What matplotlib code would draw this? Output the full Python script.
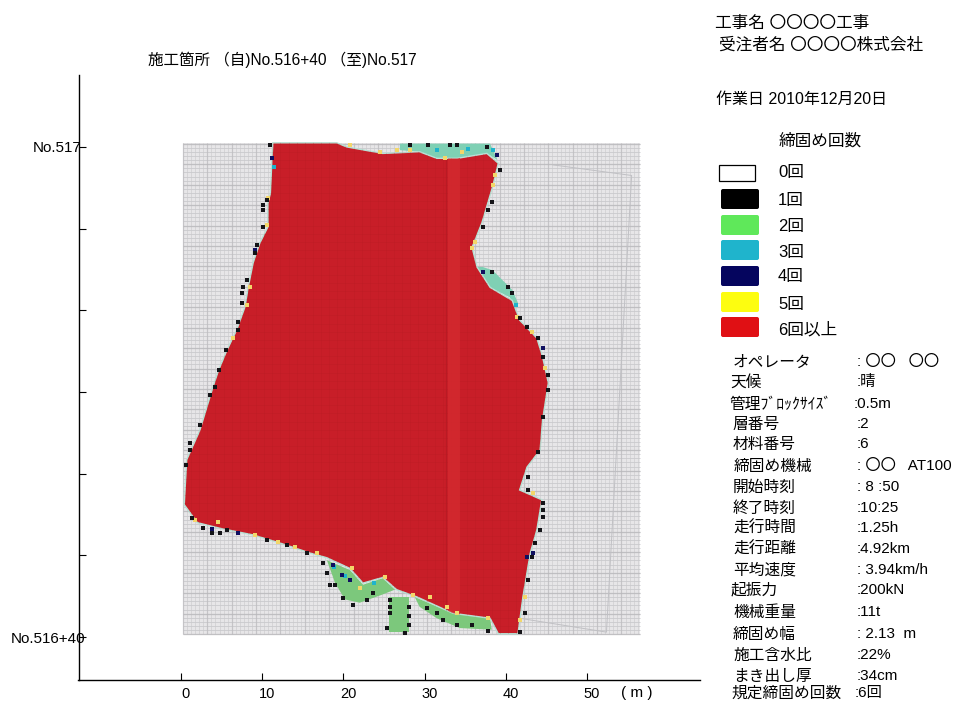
import numpy as np
import matplotlib
matplotlib.use('Agg')
import matplotlib.pyplot as plt
from matplotlib.patches import Polygon, Rectangle, FancyBboxPatch
from matplotlib.transforms import ScaledTranslation

plt.rcParams['font.family'] = ['Liberation Sans', 'Noto Sans CJK JP', 'DejaVu Sans']

# Values (metres along x, metres from No.516+40 along y)
x_ticks = [0, 10, 20, 30, 40, 50]
y_ticks = [0, 10, 20, 30, 40, 50, 60]
y_tick_labels = ['No.516+40', '', '', '', '', '', 'No.517']

# the lists below were read at 8.2 px/m, the axis turned out to be 8.12 px/m
x_fix = 8.2 / 8.12

red_outline = [
    (11.2, 60.5), (10.9, 54.3), (10.6, 53.1), (10.6, 50.2), (9.6, 48.2), (8.8, 45.8),
    (8.2, 42.8), (7.8, 40.4), (6.8, 37.6), (5.6, 35.1), (4.6, 32.7), (3.9, 30.6),
    (2.3, 25.3), (0.7, 21.7), (0.4, 16.2), (2.0, 14.0), (4.8, 13.3), (8.8, 12.5),
    (12.1, 11.5), (15.7, 10.3), (17.8, 9.7), (20.6, 8.4), (22.2, 6.6), (24.6, 7.3),
    (26.3, 5.8), (28.8, 4.9), (33.2, 2.9), (37.7, 2.3), (38.7, 0.4), (41.1, 0.4),
    (41.7, 4.9), (42.6, 10.3), (43.4, 13.1), (44.0, 16.8), (41.3, 18.0), (42.2, 20.8),
    (43.8, 22.9), (44.1, 26.6), (44.8, 31.1), (44.1, 34.3), (43.4, 36.6), (41.3, 38.8),
    (40.4, 41.2), (37.7, 42.8), (36.1, 45.3), (35.5, 47.7), (36.7, 50.7), (38.0, 55.1),
    (38.7, 58.0), (37.3, 59.2), (33.7, 58.6), (31.2, 58.6), (29.1, 59.4), (24.6, 59.2),
    (20.2, 60.0), (19.0, 60.5),
]

green_areas = [
    [(25.4, 4.9), (27.8, 4.9), (27.8, 0.6), (25.4, 0.6)],
    [(17.8, 9.4), (20.6, 8.2), (22.2, 6.4), (24.6, 7.2), (26.1, 5.8), (24.3, 5.1),
     (21.8, 4.2), (20.0, 4.6), (18.8, 6.6)],
    [(28.5, 4.9), (33.2, 2.9), (37.7, 2.3), (37.9, 0.9), (34.0, 1.1), (31.2, 2.3), (29.1, 3.7)],
]
teal_areas = [
    [(36.1, 45.3), (37.7, 42.8), (40.1, 41.6), (40.7, 40.0), (41.1, 40.9), (40.4, 42.5),
     (38.0, 44.9), (36.8, 45.3)],
    [(26.7, 60.4), (37.7, 60.4), (38.6, 58.4), (37.3, 59.2), (33.7, 58.6), (31.2, 58.6),
     (29.1, 59.4), (26.7, 59.6)],
]

black_cells = [
    (10.5, 53.5), (10.0, 52.9), (10.0, 52.3), (10.0, 50.2), (9.3, 48.0), (9.0, 47.0),
    (8.0, 43.7), (7.6, 42.8), (7.4, 42.1), (7.4, 40.9), (7.0, 38.6), (7.0, 37.6),
    (5.5, 35.1), (4.6, 32.7), (4.1, 30.6), (10.9, 60.2), (3.5, 29.6), (2.3, 25.9),
    (1.1, 23.7), (1.1, 22.9), (0.6, 21.1), (1.3, 14.6), (2.7, 13.3), (3.8, 12.7),
    (4.8, 12.7), (5.6, 13.1), (10.5, 11.9), (12.9, 11.3), (15.4, 10.3), (17.3, 9.1),
    (17.8, 7.8), (18.2, 6.4), (18.8, 6.4), (19.8, 4.8), (21.0, 3.9), (23.4, 5.4),
    (22.7, 4.5), (25.5, 4.5), (25.5, 3.7), (25.5, 2.9), (27.8, 3.7), (27.8, 2.6),
    (27.8, 1.5), (25.1, 1.1), (27.3, 0.5), (30.0, 3.5), (31.2, 2.9), (32.0, 2.1),
    (33.7, 1.5), (35.5, 1.5), (37.4, 0.7), (41.3, 0.6), (42.0, 2.9), (42.3, 7.0),
    (42.8, 9.8), (43.2, 11.5), (43.8, 13.1), (44.1, 16.4), (44.1, 15.5), (44.1, 14.7),
    (42.3, 19.6), (42.3, 18.0), (43.5, 22.6), (44.1, 26.9), (44.8, 30.2), (44.8, 32.1),
    (44.1, 34.3), (43.5, 36.6), (42.2, 37.9), (41.3, 39.0), (40.4, 42.1), (39.9, 42.8),
    (37.9, 44.7), (36.8, 50.2), (37.4, 52.3), (37.9, 53.2), (38.9, 57.2), (37.3, 60.0),
    (33.7, 60.2), (32.8, 60.2), (30.1, 60.2), (27.9, 60.2),
]
yellow_cells = [
    (10.6, 53.7), (10.5, 50.4), (8.4, 42.8), (8.0, 40.6), (6.3, 36.6), (1.7, 14.3),
    (4.5, 14.1), (9.0, 12.5), (11.8, 11.6), (13.9, 11.0), (16.6, 10.3), (20.9, 8.4),
    (21.8, 6.0), (24.9, 7.3), (28.3, 5.1), (30.4, 4.9), (32.4, 3.7), (33.7, 2.9),
    (37.4, 2.3), (41.3, 2.1), (42.0, 4.9), (42.9, 17.6), (35.5, 47.6), (44.4, 32.9),
    (42.8, 37.3), (41.0, 39.2), (38.3, 56.5), (38.0, 55.3), (35.9, 48.3), (32.2, 58.6),
    (34.3, 59.4), (27.9, 59.6), (24.3, 59.4), (20.6, 60.2), (26.3, 59.6),
]
navy_cells = [
    (9.0, 47.4), (11.1, 58.6), (18.5, 8.8), (20.6, 7.0), (7.0, 12.7), (3.8, 13.2),
    (38.5, 59.0), (36.8, 44.7), (44.1, 35.4), (42.9, 10.3), (42.2, 9.8), (19.6, 7.6),
]
cyan_cells = [
    (18.7, 8.6), (20.0, 7.5), (31.2, 59.6), (35.0, 59.7), (38.0, 59.6), (11.3, 57.5),
    (40.9, 40.6), (23.6, 6.6),
]

legend_labels = ['0回', '1回', '2回', '3回', '4回', '5回', '6回以上']
legend_colors = ['white', '#000000', '#5fe85a', '#1fb4cc', '#05055e', '#fdfd10', '#e01014']

info_labels = ['オペレータ', '天候', '管理ﾌﾞﾛｯｸｻｲｽﾞ', '層番号', '材料番号', '締固め機械', '開始時刻',
               '終了時刻', '走行時間', '走行距離', '平均速度', '起振力', '機械重量', '締固め幅',
               '施工含水比', 'まき出し厚', '規定締固め回数']
info_values = [': 〇〇   〇〇', ':晴', ':0.5m', ':2', ':6', ': 〇〇   AT100', ': 8 :50', ':10:25',
               ':1.25h', ':4.92km', ': 3.94km/h', ':200kN', ':11t', ': 2.13  m', ':22%',
               ':34cm', ':6回']


def fix(points):
    return [(x * x_fix, y) for x, y in points]


fig = plt.figure(figsize=(9.61, 7.02), dpi=100)

# main chart, spines placed where the reference has them
ax = fig.add_axes([78.5 / 961, 22 / 702, 621.5 / 961, 605 / 702])
ax.set_xlim(-12.62, 63.92)
ax.set_ylim(-5.26, 68.8)
ax.spines['top'].set_visible(False)
ax.spines['right'].set_visible(False)
ax.spines['left'].set_linewidth(1.0)
ax.spines['bottom'].set_linewidth(1.0)

ax.set_xticks(x_ticks)
ax.set_xticklabels([str(v) for v in x_ticks], fontsize=10.5)
ax.set_yticks(y_ticks)
ax.set_yticklabels(y_tick_labels, fontsize=10.9)
ax.tick_params(axis='both', direction='in', length=5, width=0.8)
ax.tick_params(axis='x', pad=5)
ax.tick_params(axis='y', pad=-2)
for lab in ax.get_xticklabels():
    lab.set_transform(lab.get_transform() + ScaledTranslation(5 / 100, 0, fig.dpi_scale_trans))
ax.get_yticklabels()[0].set_transform(
    ax.get_yticklabels()[0].get_transform() + ScaledTranslation(4 / 100, 0, fig.dpi_scale_trans))
ax.text(54.2, -6.85, '( m )', fontsize=11, ha='left', va='center', clip_on=False)

# grey sheet with the block grid
sheet_x0, sheet_x1 = 0.25, 56.5
sheet_y0, sheet_y1 = 0.37, 60.5
sheet = Rectangle((sheet_x0, sheet_y0), sheet_x1 - sheet_x0, sheet_y1 - sheet_y0,
                  facecolor='#e7e6e8', edgecolor='none', zorder=1)
ax.add_patch(sheet)
grid_x = np.arange(sheet_x0, sheet_x1, 0.5)
grid_y = np.arange(sheet_y0, sheet_y1, 0.5)
ax.vlines(grid_x, sheet_y0, sheet_y1, color='#cfced1', lw=0.5, zorder=1.1)
ax.hlines(grid_y, sheet_x0, sheet_x1, color='#cacacd', lw=0.6, zorder=1.1)
ax.vlines(grid_x[::6], sheet_y0, sheet_y1, color='#bbbabd', lw=0.9, alpha=0.6, zorder=1.2)
ax.hlines(grid_y[::5], sheet_x0, sheet_x1, color='#b6b5b8', lw=1.0, alpha=0.6, zorder=1.2)

# faint survey boundary on the right of the sheet
ax.plot([45.8, 55.5, 52.4, 41.7], [57.8, 56.5, 0.6, 2.3], color='#c0c0c4', lw=0.7, zorder=1.3)

for area in green_areas:
    ax.add_patch(Polygon(fix(area), closed=True, facecolor='#7cc87c', edgecolor='none', zorder=2))
for area in teal_areas:
    ax.add_patch(Polygon(fix(area), closed=True, facecolor='#7fd0b4', edgecolor='none', zorder=2))

# the compacted area
red_patch = Polygon(fix(red_outline), closed=True, facecolor='#c81e28', edgecolor='#b8e2d6',
                    lw=1.0, zorder=3)
ax.add_patch(red_patch)
red_v = ax.vlines(grid_x[::2], 0, 61, color='#b01a22', lw=0.4, alpha=0.35, zorder=3.1)
red_h = ax.hlines(grid_y[::2], 0, 46, color='#b01a22', lw=0.4, alpha=0.35, zorder=3.1)
red_v.set_clip_path(red_patch)
red_h.set_clip_path(red_patch)
stripe = Rectangle((32.9, 0), 1.5, 61, facecolor='#d62c30', edgecolor='none', alpha=0.7, zorder=3.2)
ax.add_patch(stripe)
stripe.set_clip_path(red_patch)
dark_line = ax.vlines([32.7], 0, 61, color='#b01a22', lw=0.8, alpha=0.6, zorder=3.2)
dark_line.set_clip_path(red_patch)

for cells, col in [(cyan_cells, '#1fb4cc'), (yellow_cells, '#f3d76a'),
                   (navy_cells, '#101060'), (black_cells, '#141418')]:
    cells = fix(cells)
    ax.scatter([c[0] for c in cells], [c[1] for c in cells], s=6, marker='s', color=col,
               linewidths=0, zorder=4)

# overlay in pixel coordinates for the header, legend and info table
ov = fig.add_axes([0, 0, 1, 1])
ov.set_xlim(0, 961)
ov.set_ylim(702, 0)
ov.axis('off')
ov.patch.set_alpha(0)

ov.text(148, 60, '施工箇所 （自)No.516+40 （至)No.517', fontsize=11.2, va='center')
ov.text(715, 23, '工事名 〇〇〇〇工事', fontsize=12, va='center')
ov.text(719, 45, '受注者名 〇〇〇〇株式会社', fontsize=12, va='center')
ov.text(716, 99, '作業日 2010年12月20日', fontsize=11.5, va='center')
ov.text(779, 141, '締固め回数', fontsize=12, va='center')

swatch_y = [172, 199, 225, 250, 276, 302, 327]
label_y = [172, 201, 227, 253, 276, 304, 330]
for i in range(len(legend_labels)):
    if i == 0:
        ov.add_patch(Rectangle((719, 165), 36, 16, facecolor='white', edgecolor='black', lw=0.9))
    else:
        ov.add_patch(FancyBboxPatch((723, swatch_y[i] - 8), 34, 16, boxstyle='round,pad=2',
                                    facecolor=legend_colors[i], edgecolor='none'))
    ov.text(778, label_y[i], legend_labels[i], fontsize=12, va='center')

info_label_x = [733, 730, 729, 732, 733, 734, 733, 733, 733, 733, 733, 731, 733, 733, 733, 733, 731]
info_label_y = [362, 382, 404, 424, 444, 466, 487, 508, 528, 549, 570, 590, 612, 634, 655, 676, 693]
info_value_x = [857, 857, 854, 857, 857, 857, 857, 857, 857, 857, 857, 857, 857, 857, 857, 857, 855]
for i in range(len(info_labels)):
    ov.text(info_label_x[i], info_label_y[i], info_labels[i], fontsize=11.3, va='center')
    ov.text(info_value_x[i], info_label_y[i], info_values[i], fontsize=11, va='center')

fig.savefig('out.png', dpi=100)
plt.close(fig)
